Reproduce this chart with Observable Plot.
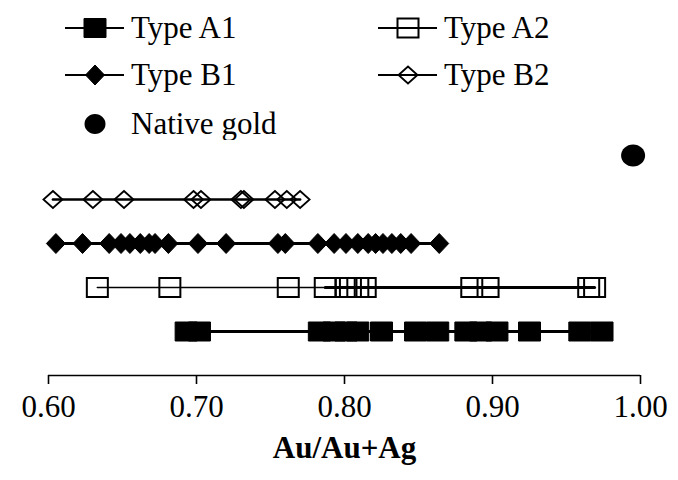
<!DOCTYPE html>
<html>
<head>
<meta charset="utf-8">
<script src="https://cdn.jsdelivr.net/npm/d3@7"></script>
<script src="https://cdn.jsdelivr.net/npm/@observablehq/plot@0.6"></script>
<style>
  body { margin: 0; background: #fff; font-family: "Liberation Serif", "Times New Roman", serif; }
  #wrap { width: 678px; height: 480px; position: relative; overflow: hidden; background: #fff; }
  #legend { width: 678px; height: 140px; }
  #chart svg { display: block; }
</style>
</head>
<body>
<div id="wrap"><div id="legend"></div><div id="chart"></div></div>
<script>
// ---- data ----
const seriesNames = ["Type A1", "Type A2", "Type B1", "Type B2", "Native gold"];
const typeA1 = [0.693, 0.702, 0.783, 0.793, 0.801, 0.809, 0.825, 0.848, 0.863, 0.882, 0.892, 0.903, 0.925, 0.959, 0.974];
const typeA2 = [0.633, 0.682, 0.762, 0.787, 0.801, 0.804, 0.809, 0.814, 0.886, 0.897, 0.965, 0.969];
const typeB1 = [0.605, 0.623, 0.641, 0.649, 0.655, 0.662, 0.668, 0.672, 0.681, 0.701, 0.720, 0.755, 0.760, 0.782, 0.793, 0.801, 0.809, 0.816, 0.821, 0.826, 0.832, 0.838, 0.845, 0.864];
const typeB2 = [0.603, 0.630, 0.651, 0.698, 0.703, 0.730, 0.732, 0.753, 0.761, 0.770];
const nativeGold = [0.995];
const xTicks = [0.60, 0.70, 0.80, 0.90, 1.00];
const xTitle = "Au/Au+Ag";

// ---- build tidy table: row level = position of series in the list ----
const allValues = [typeA1, typeA2, typeB1, typeB2, nativeGold];
const table = allValues.map((vals, i) => vals.map(v => ({series: seriesNames[i], row: i + 1, v})));
const [dA1, dA2, dB1, dB2, dNG] = table;

// ---- custom marker shapes ----
const rectSym = (w, h) => ({draw(c) { c.moveTo(-w, -h); c.lineTo(w, -h); c.lineTo(w, h); c.lineTo(-w, h); c.closePath(); }});
const diaSym = (w, h) => ({draw(c) { c.moveTo(0, -h); c.lineTo(w, 0); c.lineTo(0, h); c.lineTo(-w, 0); c.closePath(); }});
const ellSym = (rx, ry) => ({draw(c) {
  const k = 0.5523;
  c.moveTo(rx, 0);
  c.bezierCurveTo(rx, ry * k, rx * k, ry, 0, ry);
  c.bezierCurveTo(-rx * k, ry, -rx, ry * k, -rx, 0);
  c.bezierCurveTo(-rx, -ry * k, -rx * k, -ry, 0, -ry);
  c.bezierCurveTo(rx * k, -ry, rx, -ry * k, rx, 0);
  c.closePath();
}});

const styles = {
  "Type A1": {sym: rectSym(11, 9.5), fill: "black", stroke: "black", sw: 1, lw: 3},
  "Type A2": {sym: rectSym(10.5, 9.5), fill: "none", stroke: "black", sw: 2, lw: 1.6},
  "Type B1": {sym: diaSym(9.5, 10), fill: "black", stroke: "black", sw: 1, lw: 3},
  "Type B2": {sym: diaSym(9.5, 8.5), fill: "none", stroke: "black", sw: 1.8, lw: 2.6},
  "Native gold": {sym: ellSym(12, 11), fill: "black", stroke: "black", sw: 0, lw: 0}
};

const lineMark = (d, lw) => Plot.line([...d].sort((a, b) => a.v - b.v), {x: "v", y: "row", stroke: "black", strokeWidth: lw});
const dotMark = (d, s) => Plot.dot(d, {x: "v", y: "row", symbol: s.sym, fill: s.fill, stroke: s.stroke, strokeWidth: s.sw});

const chart = Plot.plot({
  width: 678,
  height: 340,
  marginLeft: 48,
  marginRight: 38,
  marginTop: 15,
  marginBottom: 105,
  x: {domain: [0.6, 1.0]},
  y: {domain: [0, 5], axis: null},
  style: {fontFamily: "'Liberation Serif', 'Times New Roman', serif", fontSize: "31px", color: "black", background: "white", overflow: "visible"},
  marks: [
    Plot.ruleY([0], {x1: 0.6, x2: 1.0, stroke: "black", strokeWidth: 1.6}),
    Plot.axisX({ticks: xTicks, tickFormat: d3.format(".2f"), tickSize: 9, tickPadding: 10, strokeWidth: 1.6, label: null, fontSize: 31}),
    lineMark(dA1, styles["Type A1"].lw),
    lineMark(dA2, styles["Type A2"].lw),
    lineMark(dA2.filter(d => d.v >= typeA2[3]), 3),
    lineMark(dB1, styles["Type B1"].lw),
    lineMark(dB2, styles["Type B2"].lw),
    dotMark(dA1, styles["Type A1"]),
    dotMark(dA2, styles["Type A2"]),
    dotMark(dB1, styles["Type B1"]),
    dotMark(dB2, styles["Type B2"]),
    dotMark(dNG, styles["Native gold"]),
    Plot.text([xTitle], {frameAnchor: "bottom", dy: 82, fontWeight: "bold", fontSize: 31, fill: "black"})
  ]
});
document.getElementById("chart").appendChild(chart);

// ---- legend (above the plot) ----
const legendItems = [
  {name: "Type A1", col: 0, rowIdx: 0, line: true},
  {name: "Type A2", col: 1, rowIdx: 0, line: true},
  {name: "Type B1", col: 0, rowIdx: 1, line: true},
  {name: "Type B2", col: 1, rowIdx: 1, line: true},
  {name: "Native gold", col: 0, rowIdx: 2, line: false}
];
const colX = [65, 378];
const rowY = [28, 75, 124];
const lsvg = d3.select("#legend").append("svg").attr("width", 678).attr("height", 140);
for (const it of legendItems) {
  const s = styles[it.name];
  const x0 = colX[it.col], y0 = rowY[it.rowIdx];
  const g = lsvg.append("g");
  if (it.line) g.append("line").attr("x1", x0).attr("x2", x0 + 59).attr("y1", y0).attr("y2", y0).attr("stroke", "black").attr("stroke-width", 1.8);
  const p = d3.path();
  (it.name === "Native gold" ? ellSym(10.5, 10) : s.sym).draw(p);
  g.append("path").attr("d", p.toString()).attr("transform", `translate(${x0 + 30},${y0})`)
    .attr("fill", s.fill).attr("stroke", s.stroke).attr("stroke-width", s.sw || 0);
  g.append("text").attr("x", x0 + 66).attr("y", y0 + 10).attr("font-size", 31)
    .attr("font-family", "'Liberation Serif', 'Times New Roman', serif").attr("fill", "black").text(it.name);
}
</script>
</body>
</html>
